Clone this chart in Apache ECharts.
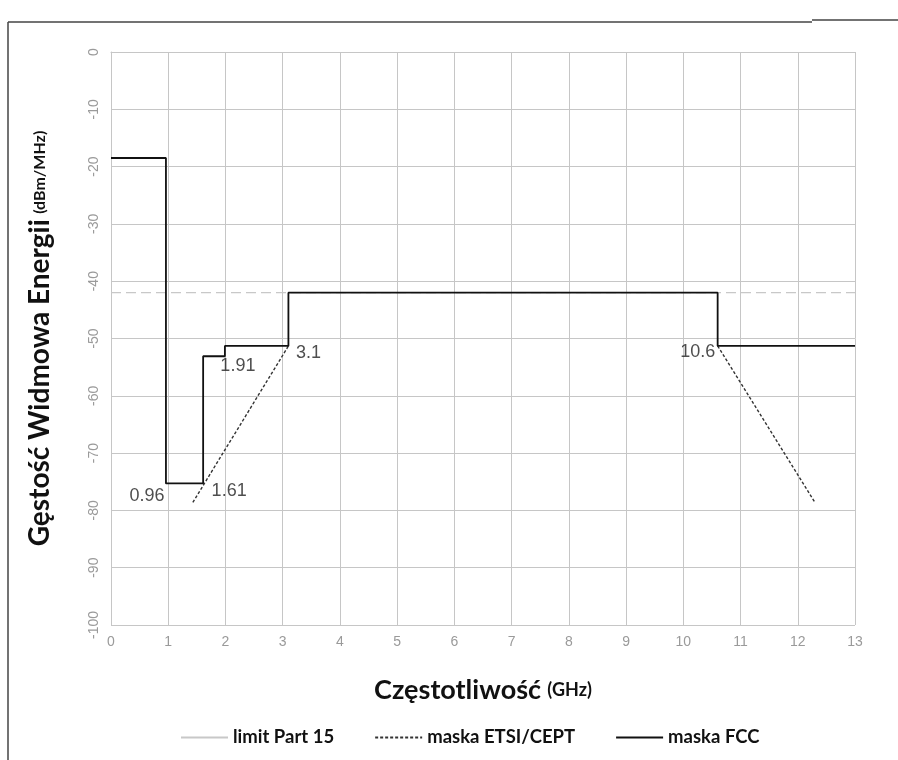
<!DOCTYPE html>
<html>
<head>
<meta charset="utf-8">
<script src="https://cdn.jsdelivr.net/npm/echarts@6/dist/echarts.min.js"></script>
<style>
  html, body { margin: 0; padding: 0; background: #fff; }
  #chart { width: 898px; height: 760px; }
</style>
</head>
<body>
<div id="chart"></div>
<script>
// dane
const part15 = [[0, -42], [13, -42]];
const etsi = [[1.43, -78.6], [3.1, -51.3], null, [10.6, -51.3], [12.3, -78.6]];
const fcc = [
    [0, -18.5], [0.96, -18.5], [0.96, -75.3], [1.61, -75.3], [1.61, -53.1],
    [1.99, -53.1], [1.99, -51.3], [3.1, -51.3], [3.1, -42], [10.6, -42],
    [10.6, -51.3], [13, -51.3]
];
const markers = [
    { value: [0.96, -75.3], text: '0.96', offset: [-19, 13] },
    { value: [1.61, -75.3], text: '1.61', offset: [26, 8] },
    { value: [1.99, -53.1], text: '1.91', offset: [13, 10] },
    { value: [3.1, -51.3], text: '3.1', offset: [20, 7] },
    { value: [10.6, -51.3], text: '10.6', offset: [-20, 6] }
];
const xTicks = [0, 13, 1];
const yTicks = [-100, 0, 10];

const myChart = echarts.init(document.getElementById('chart'));
const gridColor = '#c6c6c6';
const labelColor = '#9a9a9a';

myChart.setOption({
    animation: false,
    backgroundColor: '#fff',
    grid: { left: 111, right: 43, top: 52, bottom: 135 },
    xAxis: {
        type: 'value',
        min: xTicks[0], max: xTicks[1], interval: xTicks[2],
        name: '{a|Częstotliwość} {b|(GHz)}',
        nameLocation: 'middle',
        nameGap: 52,
        nameTextStyle: {
            rich: {
                a: { fontFamily: 'Lato', fontWeight: 'bold', fontSize: 27, color: '#111' },
                b: { fontFamily: 'Lato', fontWeight: 'bold', fontSize: 18, color: '#111', padding: [0, 0, 0, 3] }
            }
        },
        axisLine: { show: true, lineStyle: { color: gridColor } },
        axisTick: { show: false },
        axisLabel: { color: labelColor, fontSize: 14, fontFamily: 'Liberation Sans', margin: 10 },
        splitLine: { show: true, lineStyle: { color: gridColor, width: 1 } }
    },
    yAxis: {
        type: 'value',
        min: yTicks[0], max: yTicks[1], interval: yTicks[2],
        name: '{a|Gęstość Widmowa Energii} {b|(dBm/MHz)}',
        nameLocation: 'middle',
        nameGap: 57,
        nameTextStyle: {
            rich: {
                a: { fontFamily: 'Lato', fontWeight: 'bold', fontSize: 28, color: '#111' },
                b: { fontFamily: 'Lato', fontWeight: 'bold', fontSize: 16, color: '#111', padding: [0, 0, 0, 2] }
            }
        },
        axisLine: { show: true, lineStyle: { color: gridColor } },
        axisTick: { show: false },
        axisLabel: { color: labelColor, fontSize: 14, fontFamily: 'Liberation Sans', rotate: 90, margin: 10 },
        splitLine: { show: true, lineStyle: { color: gridColor, width: 1 } }
    },
    legend: {
        bottom: 8,
        left: 175,
        itemWidth: 47,
        itemHeight: 10,
        itemGap: 40,
        itemStyle: { opacity: 0 },
        textStyle: { fontFamily: 'Lato', fontWeight: 'bold', fontSize: 18.5, color: '#111' },
        data: [
            { name: 'limit Part 15', lineStyle: { type: 'solid' } },
            'maska ETSI/CEPT',
            'maska FCC'
        ]
    },
    series: [
        {
            name: 'limit Part 15',
            type: 'line',
            data: part15,
            symbol: 'none',
            lineStyle: { color: '#c8c8c8', width: 1.2, type: [10, 5] },
            itemStyle: { color: '#c8c8c8' },
            z: 1
        },
        {
            name: 'maska ETSI/CEPT',
            type: 'line',
            data: etsi,
            symbol: 'none',
            connectNulls: false,
            lineStyle: { color: '#333', width: 1.4, type: [3, 2] },
            itemStyle: { color: '#333' },
            z: 2
        },
        {
            name: 'maska FCC',
            type: 'line',
            data: fcc,
            symbol: 'none',
            lineStyle: { color: '#111', width: 1.8 },
            itemStyle: { color: '#111' },
            z: 3
        },
        {
            name: 'opisy',
            type: 'scatter',
            symbolSize: 0,
            silent: true,
            data: markers.map((m) => ({
                value: m.value,
                label: {
                    show: true,
                    formatter: m.text,
                    position: 'inside',
                    offset: m.offset,
                    fontSize: 18,
                    fontFamily: 'Liberation Sans',
                    color: '#222'
                }
            })),
            z: 4
        }
    ],
    graphic: [
        { type: 'line', shape: { x1: 8, y1: 22, x2: 8, y2: 760 }, style: { stroke: '#444', lineWidth: 1.5 } },
        { type: 'line', shape: { x1: 8, y1: 22, x2: 812, y2: 22 }, style: { stroke: '#444', lineWidth: 1.5 } },
        { type: 'line', shape: { x1: 812, y1: 20, x2: 898, y2: 20 }, style: { stroke: '#444', lineWidth: 1.5 } }
    ]
});
</script>
</body>
</html>
